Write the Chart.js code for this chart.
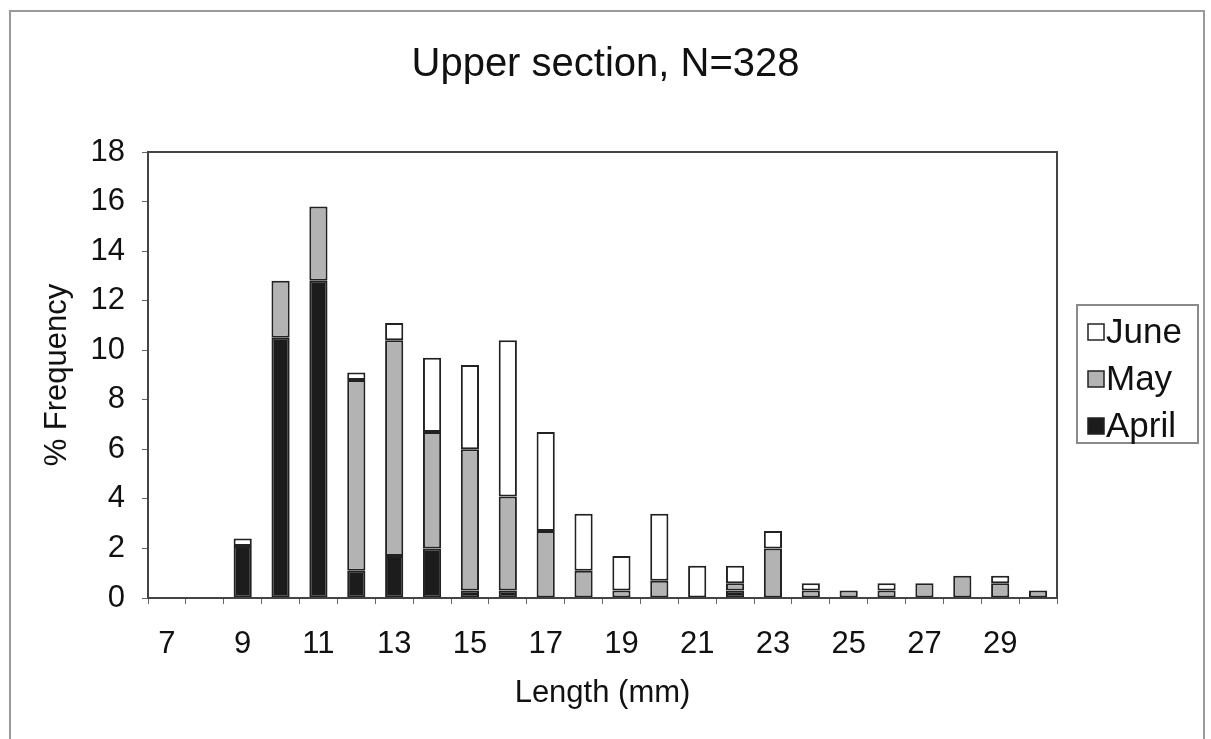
<!DOCTYPE html>
<html>
<head>
<meta charset="utf-8">
<title>Upper section, N=328</title>
<script src="https://cdn.jsdelivr.net/npm/chart.js@4.4.1/dist/chart.umd.min.js"></script>
<style>
    html, body { margin: 0; padding: 0; background: #fff; }
    #wrap { position: relative; width: 1211px; height: 739px; overflow: hidden; }
    #frame {
        position: absolute; left: 9px; top: 10px; width: 1196px; height: 760px;
        border: 2px solid #9a9a9a; box-sizing: border-box; pointer-events: none;
    }
    canvas { position: absolute; left: 0; top: 0; }
</style>
</head>
<body>
<div id="wrap">
    <canvas id="chart" width="1211" height="739"></canvas>
    <div id="frame"></div>
</div>
<script>
// 体长 (mm) 分组
const lengths = ['7', '8', '9', '10', '11', '12', '13', '14', '15', '16', '17', '18',
                 '19', '20', '21', '22', '23', '24', '25', '26', '27', '28', '29', '30'];

// 各月 % 频率
const april = [0, 0, 2.1, 10.5, 12.8, 1.1, 1.7, 2.0, 0.3, 0.3, 0, 0,
               0, 0, 0, 0.3, 0, 0, 0, 0, 0, 0, 0, 0];
const may   = [0, 0, 0, 2.3, 3.0, 7.7, 8.7, 4.7, 5.7, 3.8, 2.7, 1.1,
               0.3, 0.7, 0, 0.3, 2.0, 0.3, 0.3, 0.3, 0.6, 0.9, 0.6, 0.3];
const june  = [0, 0, 0.3, 0, 0, 0.3, 0.7, 3.0, 3.4, 6.3, 4.0, 2.3,
               1.4, 2.7, 1.3, 0.7, 0.7, 0.3, 0, 0.3, 0, 0, 0.3, 0];

const yTicks = [0, 2, 4, 6, 8, 10, 12, 14, 16, 18];

const FONT = 'Arial, "Liberation Sans", sans-serif';
const INK = '#111';
const EDGE = '#222';

// 绘图区外框 + 右侧图例框
const frameAndLegend = {
    id: 'frameAndLegend',
    afterDraw(chart) {
        const ctx = chart.ctx;
        const a = chart.chartArea;
        ctx.save();
        ctx.strokeStyle = '#444';
        ctx.lineWidth = 2;
        ctx.strokeRect(a.left, a.top, a.right - a.left, a.bottom - a.top);

        // 图例
        const bx = 1077, by = 305, bw = 121, bh = 138;
        ctx.strokeStyle = '#8a8a8a';
        ctx.strokeRect(bx, by, bw, bh);
        const items = chart.data.datasets.slice().reverse();
        ctx.font = '35px ' + FONT;
        ctx.textBaseline = 'middle';
        items.forEach((ds, i) => {
            const cy = 332 + i * 47;
            ctx.fillStyle = ds.backgroundColor;
            ctx.fillRect(1088, cy - 8, 16, 16);
            ctx.strokeStyle = EDGE;
            ctx.lineWidth = 1.5;
            ctx.strokeRect(1088, cy - 8, 16, 16);
            ctx.fillStyle = INK;
            ctx.fillText(ds.label, 1106, cy + 1);
        });
        ctx.restore();
    }
};

const barStyle = {
    borderColor: EDGE,
    borderWidth: 2,
    borderSkipped: false,
    barPercentage: 0.48,
    categoryPercentage: 1.0
};

// 0 值不画（避免零高度柱的边框线）
const skipZero = arr => arr.map(v => (v === 0 ? null : v));

new Chart(document.getElementById('chart'), {
    type: 'bar',
    data: {
        labels: lengths,
        datasets: [
            { label: 'April', data: skipZero(april), backgroundColor: '#1c1c1c', ...barStyle },
            { label: 'May',   data: skipZero(may),   backgroundColor: '#b3b3b3', ...barStyle },
            { label: 'June',  data: skipZero(june),  backgroundColor: '#ffffff', ...barStyle }
        ]
    },
    options: {
        responsive: false,
        animation: false,
        layout: { padding: 0 },
        plugins: {
            legend: { display: false },
            tooltip: { enabled: false },
            title: {
                display: true,
                text: 'Upper section, N=328',
                color: INK,
                font: { family: FONT, size: 40, weight: 'normal' },
                padding: { top: 41, bottom: 63 }
            }
        },
        scales: {
            x: {
                stacked: true,
                grid: { offset: true, drawOnChartArea: false, tickLength: 6, color: '#666' },
                border: { display: false },
                ticks: {
                    autoSkip: false,
                    maxRotation: 0,
                    padding: 22,
                    color: INK,
                    font: { family: FONT, size: 31 },
                    callback: function(value) {
                        const v = Number(lengths[value]);
                        return v % 2 === 1 ? lengths[value] : '';
                    }
                },
                title: {
                    display: true,
                    text: 'Length (mm)',
                    color: INK,
                    font: { family: FONT, size: 31 },
                    padding: { top: 0, bottom: 27 }
                },
                afterFit(scale) { scale.height = 141; }
            },
            y: {
                stacked: true,
                min: 0,
                max: 18,
                afterBuildTicks(scale) { scale.ticks = yTicks.map(v => ({ value: v })); },
                grid: { drawOnChartArea: false, tickLength: 6, color: '#666' },
                border: { display: false },
                ticks: {
                    padding: 17,
                    color: INK,
                    font: { family: FONT, size: 31 }
                },
                title: {
                    display: true,
                    text: '% Frequency',
                    color: INK,
                    font: { family: FONT, size: 31 },
                    padding: { top: 39, bottom: 0 }
                },
                afterFit(scale) { scale.width = 148; }
            },
            // 右侧留白给图例
            legendSpace: {
                type: 'linear',
                position: 'right',
                min: 0,
                max: 1,
                grid: { display: false },
                border: { display: false },
                ticks: { display: false },
                afterFit(scale) { scale.width = 154; }
            }
        }
    },
    plugins: [frameAndLegend]
});
</script>
</body>
</html>
